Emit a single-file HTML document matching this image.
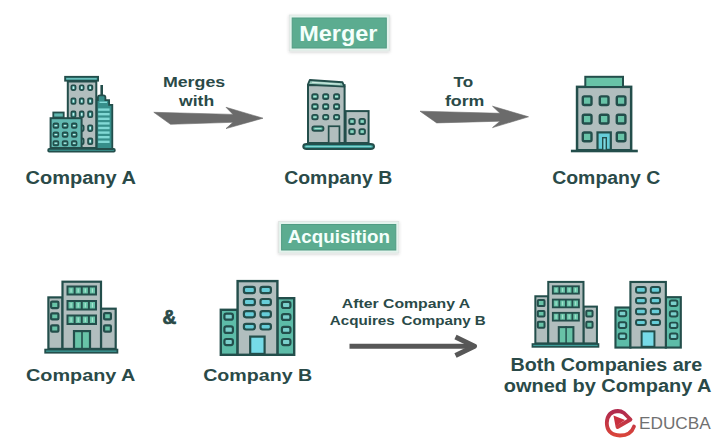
<!DOCTYPE html>
<html><head><meta charset="utf-8"><style>
html,body{margin:0;padding:0;background:#ffffff;}
svg{display:block;}
text{font-family:"Liberation Sans",sans-serif;}
</style></head><body>
<svg width="720" height="441" viewBox="0 0 720 441">
<defs><filter id="sh" x="-20%" y="-40%" width="140%" height="180%"><feDropShadow dx="0" dy="1" stdDeviation="1.5" flood-color="#000" flood-opacity="0.18"/></filter></defs>
<rect width="720" height="441" fill="#ffffff"/>
<rect x="289.2" y="15" width="100.10000000000002" height="36" fill="#e4f3ed" stroke="#dfe3e2" stroke-width="0.8" filter="url(#sh)"/>
<rect x="292.2" y="18" width="94.10000000000002" height="30" fill="#5cac90" stroke="#519c83" stroke-width="1"/>
<text x="299.20" y="40.60" font-size="22.30" font-weight="700" fill="#f4fffb" textLength="78.30" lengthAdjust="spacingAndGlyphs" >Merger</text>
<rect x="278.6" y="221.5" width="120.19999999999999" height="31.5" fill="#e4f3ed" stroke="#dfe3e2" stroke-width="0.8" filter="url(#sh)"/>
<rect x="281.6" y="224.5" width="114.19999999999999" height="25.5" fill="#5cac90" stroke="#519c83" stroke-width="1"/>
<text x="287.80" y="243.00" font-size="17.60" font-weight="700" fill="#f4fffb" textLength="102.10" lengthAdjust="spacingAndGlyphs" >Acquisition</text>
<rect x="48.20" y="148.90" width="66.60" height="2.70" rx="1" fill="#3e9e9a" stroke="#234e4b" stroke-width="1.8"/>
<rect x="67.80" y="81.50" width="28.50" height="66.50" rx="0" fill="#b1bebe" stroke="#234e4b" stroke-width="2.0"/>
<rect x="65.10" y="76.80" width="33.00" height="3.90" rx="0" fill="#3e9e9a" stroke="#234e4b" stroke-width="1.8"/>
<path d="M66.5,78.8 H96.5" stroke="#7fcfcb" stroke-width="1"/>
<rect x="71.35" y="85.35" width="4.20" height="4.70" rx="1.2" fill="#3c9c96" stroke="#234e4b" stroke-width="1.7"/>
<rect x="72.65" y="86.40" width="1.60" height="2.60" rx="0" fill="#c6f2ee"/>
<rect x="71.35" y="98.35" width="4.20" height="5.50" rx="1.2" fill="#3c9c96" stroke="#234e4b" stroke-width="1.7"/>
<rect x="72.65" y="99.80" width="1.60" height="2.60" rx="0" fill="#c6f2ee"/>
<rect x="71.35" y="111.45" width="4.20" height="5.80" rx="1.2" fill="#3c9c96" stroke="#234e4b" stroke-width="1.7"/>
<rect x="72.65" y="113.05" width="1.60" height="2.60" rx="0" fill="#c6f2ee"/>
<rect x="71.35" y="125.25" width="4.20" height="5.80" rx="1.2" fill="#3c9c96" stroke="#234e4b" stroke-width="1.7"/>
<rect x="72.65" y="126.85" width="1.60" height="2.60" rx="0" fill="#c6f2ee"/>
<rect x="71.35" y="138.35" width="4.20" height="5.80" rx="1.2" fill="#3c9c96" stroke="#234e4b" stroke-width="1.7"/>
<rect x="72.65" y="139.95" width="1.60" height="2.60" rx="0" fill="#c6f2ee"/>
<rect x="79.75" y="85.35" width="3.90" height="4.70" rx="1.2" fill="#3c9c96" stroke="#234e4b" stroke-width="1.7"/>
<rect x="80.90" y="86.40" width="1.60" height="2.60" rx="0" fill="#c6f2ee"/>
<rect x="79.75" y="98.35" width="3.90" height="5.50" rx="1.2" fill="#3c9c96" stroke="#234e4b" stroke-width="1.7"/>
<rect x="80.90" y="99.80" width="1.60" height="2.60" rx="0" fill="#c6f2ee"/>
<rect x="79.75" y="111.45" width="3.90" height="5.80" rx="1.2" fill="#3c9c96" stroke="#234e4b" stroke-width="1.7"/>
<rect x="80.90" y="113.05" width="1.60" height="2.60" rx="0" fill="#c6f2ee"/>
<rect x="79.75" y="125.25" width="3.90" height="5.80" rx="1.2" fill="#3c9c96" stroke="#234e4b" stroke-width="1.7"/>
<rect x="80.90" y="126.85" width="1.60" height="2.60" rx="0" fill="#c6f2ee"/>
<rect x="79.75" y="138.35" width="3.90" height="5.80" rx="1.2" fill="#3c9c96" stroke="#234e4b" stroke-width="1.7"/>
<rect x="80.90" y="139.95" width="1.60" height="2.60" rx="0" fill="#c6f2ee"/>
<rect x="88.05" y="85.35" width="4.30" height="4.70" rx="1.2" fill="#3c9c96" stroke="#234e4b" stroke-width="1.7"/>
<rect x="89.40" y="86.40" width="1.60" height="2.60" rx="0" fill="#c6f2ee"/>
<rect x="88.05" y="98.35" width="4.30" height="5.50" rx="1.2" fill="#3c9c96" stroke="#234e4b" stroke-width="1.7"/>
<rect x="89.40" y="99.80" width="1.60" height="2.60" rx="0" fill="#c6f2ee"/>
<rect x="88.05" y="111.45" width="4.30" height="5.80" rx="1.2" fill="#3c9c96" stroke="#234e4b" stroke-width="1.7"/>
<rect x="89.40" y="113.05" width="1.60" height="2.60" rx="0" fill="#c6f2ee"/>
<rect x="88.05" y="125.25" width="4.30" height="5.80" rx="1.2" fill="#3c9c96" stroke="#234e4b" stroke-width="1.7"/>
<rect x="89.40" y="126.85" width="1.60" height="2.60" rx="0" fill="#c6f2ee"/>
<rect x="88.05" y="138.35" width="4.30" height="5.80" rx="1.2" fill="#3c9c96" stroke="#234e4b" stroke-width="1.7"/>
<rect x="89.40" y="139.95" width="1.60" height="2.60" rx="0" fill="#c6f2ee"/>
<path d="M101.7,95.5 V85" stroke="#234e4b" stroke-width="2.6"/>
<path d="M96.7,149 V100.2 H97.9 V97.6 Q97.9,95.4 100.2,95.4 H103.3 Q105.4,95.4 105.4,97.6 V100.2 H109.1 V104.8 H112.3 V149 Z" fill="#378f8b" stroke="#234e4b" stroke-width="1.8"/>
<path d="M98.2,109.6 H109.6" stroke="#82d9d5" stroke-width="2.4"/>
<path d="M98.2,114.2 H109.6" stroke="#82d9d5" stroke-width="2.4"/>
<path d="M98.2,118.8 H109.6" stroke="#82d9d5" stroke-width="2.4"/>
<path d="M98.2,123.4 H109.6" stroke="#82d9d5" stroke-width="2.4"/>
<path d="M98.2,128 H109.6" stroke="#82d9d5" stroke-width="2.4"/>
<path d="M98.2,132.6 H109.6" stroke="#82d9d5" stroke-width="2.4"/>
<path d="M98.2,137.2 H109.6" stroke="#82d9d5" stroke-width="2.4"/>
<path d="M98.2,141.8 H109.6" stroke="#82d9d5" stroke-width="2.4"/>
<path d="M99.5,102.3 H107" stroke="#86dcd8" stroke-width="1.4"/>
<rect x="53.30" y="112.50" width="10.40" height="5.00" rx="0" fill="#62b9b1" stroke="#234e4b" stroke-width="1.8"/>
<rect x="50.60" y="118.20" width="31.00" height="29.80" rx="0" fill="#62b9b1" stroke="#234e4b" stroke-width="2.0"/>
<rect x="53.45" y="123.35" width="4.90" height="4.60" rx="1.2" fill="#2f8c85" stroke="#234e4b" stroke-width="1.7"/>
<rect x="54.50" y="125.05" width="2.80" height="1.20" rx="0" fill="#c5f0ea"/>
<rect x="53.45" y="132.35" width="4.90" height="4.50" rx="1.2" fill="#2f8c85" stroke="#234e4b" stroke-width="1.7"/>
<rect x="54.50" y="134.00" width="2.80" height="1.20" rx="0" fill="#c5f0ea"/>
<rect x="53.45" y="141.05" width="4.90" height="4.40" rx="1.2" fill="#2f8c85" stroke="#234e4b" stroke-width="1.7"/>
<rect x="54.50" y="142.65" width="2.80" height="1.20" rx="0" fill="#c5f0ea"/>
<rect x="62.65" y="123.35" width="4.90" height="4.60" rx="1.2" fill="#2f8c85" stroke="#234e4b" stroke-width="1.7"/>
<rect x="63.70" y="125.05" width="2.80" height="1.20" rx="0" fill="#c5f0ea"/>
<rect x="62.65" y="132.35" width="4.90" height="4.50" rx="1.2" fill="#2f8c85" stroke="#234e4b" stroke-width="1.7"/>
<rect x="63.70" y="134.00" width="2.80" height="1.20" rx="0" fill="#c5f0ea"/>
<rect x="62.65" y="141.05" width="4.90" height="4.40" rx="1.2" fill="#2f8c85" stroke="#234e4b" stroke-width="1.7"/>
<rect x="63.70" y="142.65" width="2.80" height="1.20" rx="0" fill="#c5f0ea"/>
<rect x="71.85" y="123.35" width="4.70" height="4.60" rx="1.2" fill="#2f8c85" stroke="#234e4b" stroke-width="1.7"/>
<rect x="72.80" y="125.05" width="2.80" height="1.20" rx="0" fill="#c5f0ea"/>
<rect x="71.85" y="132.35" width="4.70" height="4.50" rx="1.2" fill="#2f8c85" stroke="#234e4b" stroke-width="1.7"/>
<rect x="72.80" y="134.00" width="2.80" height="1.20" rx="0" fill="#c5f0ea"/>
<rect x="71.85" y="141.05" width="4.70" height="4.40" rx="1.2" fill="#2f8c85" stroke="#234e4b" stroke-width="1.7"/>
<rect x="72.80" y="142.65" width="2.80" height="1.20" rx="0" fill="#c5f0ea"/>
<rect x="308.00" y="85.20" width="36.60" height="57.80" rx="0" fill="#b1bebe" stroke="#234e4b" stroke-width="2.0"/>
<path d="M309.8,80 L342.5,82.3 L344.4,86.6 L307.9,84.6 Z" fill="#93c7b9" stroke="#234e4b" stroke-width="1.9" stroke-linejoin="round"/>
<path d="M312,82.3 L340,84.2" stroke="#d8efe9" stroke-width="0.9"/>
<rect x="312.20" y="94.20" width="5.50" height="4.80" rx="1.6" fill="#4fa894" stroke="#234e4b" stroke-width="1.8"/>
<rect x="313.35" y="95.90" width="3.20" height="1.40" rx="0" fill="#a9e0d4"/>
<rect x="312.20" y="104.20" width="5.50" height="4.80" rx="1.6" fill="#4fa894" stroke="#234e4b" stroke-width="1.8"/>
<rect x="313.35" y="105.90" width="3.20" height="1.40" rx="0" fill="#a9e0d4"/>
<rect x="312.20" y="114.90" width="5.50" height="4.50" rx="1.6" fill="#4fa894" stroke="#234e4b" stroke-width="1.8"/>
<rect x="313.35" y="116.45" width="3.20" height="1.40" rx="0" fill="#a9e0d4"/>
<rect x="323.10" y="94.20" width="5.20" height="4.80" rx="1.6" fill="#4fa894" stroke="#234e4b" stroke-width="1.8"/>
<rect x="324.10" y="95.90" width="3.20" height="1.40" rx="0" fill="#a9e0d4"/>
<rect x="323.10" y="104.20" width="5.20" height="4.80" rx="1.6" fill="#4fa894" stroke="#234e4b" stroke-width="1.8"/>
<rect x="324.10" y="105.90" width="3.20" height="1.40" rx="0" fill="#a9e0d4"/>
<rect x="323.10" y="114.90" width="5.20" height="4.50" rx="1.6" fill="#4fa894" stroke="#234e4b" stroke-width="1.8"/>
<rect x="324.10" y="116.45" width="3.20" height="1.40" rx="0" fill="#a9e0d4"/>
<rect x="334.00" y="94.20" width="5.20" height="4.80" rx="1.6" fill="#4fa894" stroke="#234e4b" stroke-width="1.8"/>
<rect x="335.00" y="95.90" width="3.20" height="1.40" rx="0" fill="#a9e0d4"/>
<rect x="334.00" y="104.20" width="5.20" height="4.80" rx="1.6" fill="#4fa894" stroke="#234e4b" stroke-width="1.8"/>
<rect x="335.00" y="105.90" width="3.20" height="1.40" rx="0" fill="#a9e0d4"/>
<rect x="334.00" y="114.90" width="5.20" height="4.50" rx="1.6" fill="#4fa894" stroke="#234e4b" stroke-width="1.8"/>
<rect x="335.00" y="116.45" width="3.20" height="1.40" rx="0" fill="#a9e0d4"/>
<rect x="312.30" y="126.30" width="11.20" height="4.50" rx="2" fill="#4fa894" stroke="#234e4b" stroke-width="1.8"/>
<rect x="314.50" y="128.00" width="7.00" height="1.10" rx="0" fill="#a9e0d4"/>
<rect x="328.65" y="126.25" width="10.80" height="16.90" rx="0" fill="#b1bebe" stroke="#234e4b" stroke-width="1.7"/>
<rect x="345.60" y="111.10" width="23.00" height="31.90" rx="0" fill="#b1bebe" stroke="#234e4b" stroke-width="2.0"/>
<rect x="349.20" y="118.90" width="5.60" height="5.10" rx="1.6" fill="#4fa894" stroke="#234e4b" stroke-width="1.8"/>
<rect x="350.60" y="120.25" width="2.80" height="2.40" rx="0" fill="#8fd5c2"/>
<rect x="349.20" y="129.20" width="5.60" height="4.90" rx="1.6" fill="#4fa894" stroke="#234e4b" stroke-width="1.8"/>
<rect x="350.60" y="130.45" width="2.80" height="2.40" rx="0" fill="#8fd5c2"/>
<rect x="359.40" y="118.90" width="5.60" height="5.10" rx="1.6" fill="#4fa894" stroke="#234e4b" stroke-width="1.8"/>
<rect x="360.80" y="120.25" width="2.80" height="2.40" rx="0" fill="#8fd5c2"/>
<rect x="359.40" y="129.20" width="5.60" height="4.90" rx="1.6" fill="#4fa894" stroke="#234e4b" stroke-width="1.8"/>
<rect x="360.80" y="130.45" width="2.80" height="2.40" rx="0" fill="#8fd5c2"/>
<rect x="303.25" y="143.95" width="70.80" height="5.00" rx="3.4" fill="#3e9e9a" stroke="#234e4b" stroke-width="1.9"/>
<path d="M305.5,146.5 H371.5" stroke="#7ed3cf" stroke-width="1"/>
<rect x="577.05" y="86.85" width="54.10" height="63.40" rx="0" fill="#b1bebe" stroke="#234e4b" stroke-width="2.5"/>
<rect x="585.30" y="76.80" width="37.70" height="10.20" rx="0" fill="#68c3a7" stroke="#234e4b" stroke-width="2.0"/>
<rect x="582.80" y="96.40" width="8.70" height="8.60" rx="1.5" fill="#68c3a7" stroke="#234e4b" stroke-width="2.4"/>
<rect x="582.80" y="114.80" width="8.70" height="8.70" rx="1.5" fill="#68c3a7" stroke="#234e4b" stroke-width="2.4"/>
<rect x="582.80" y="132.50" width="8.70" height="8.70" rx="1.5" fill="#68c3a7" stroke="#234e4b" stroke-width="2.4"/>
<rect x="599.80" y="96.40" width="8.70" height="8.60" rx="1.5" fill="#68c3a7" stroke="#234e4b" stroke-width="2.4"/>
<rect x="599.80" y="114.80" width="8.70" height="8.70" rx="1.5" fill="#68c3a7" stroke="#234e4b" stroke-width="2.4"/>
<rect x="616.80" y="96.40" width="8.60" height="8.60" rx="1.5" fill="#68c3a7" stroke="#234e4b" stroke-width="2.4"/>
<rect x="616.80" y="114.80" width="8.60" height="8.70" rx="1.5" fill="#68c3a7" stroke="#234e4b" stroke-width="2.4"/>
<rect x="616.80" y="132.50" width="8.60" height="8.70" rx="1.5" fill="#68c3a7" stroke="#234e4b" stroke-width="2.4"/>
<rect x="597.50" y="132.40" width="13.30" height="17.50" rx="0" fill="#66cdd8" stroke="#234e4b" stroke-width="2.2"/>
<rect x="602.70" y="137.70" width="3.60" height="12.60" rx="0" fill="#7fd9e2" stroke="#234e4b" stroke-width="1.4"/>
<rect x="570.90" y="149.70" width="66.90" height="2.60" rx="0" fill="#234e4b"/>
<path d="M153.8,112.3 L233,114.4 L226,107.3 L263,118.2 L226,128.6 L233,122.3 L170.5,124.3 Z" fill="#6b6b6b" stroke="#6b6b6b" stroke-width="0.6" stroke-linejoin="round"/>
<path d="M420,111.2 L500,113.3 L492.5,106.2 L528.5,116.8 L492.5,127.6 L500,121.2 L436.7,122.9 Z" fill="#6b6b6b" stroke="#6b6b6b" stroke-width="0.6" stroke-linejoin="round"/>
<path d="M349.5,346.2 H472" stroke="#575757" stroke-width="5"/>
<path d="M455.5,337 L474.5,346.2 L455.5,355.5" fill="none" stroke="#575757" stroke-width="5" stroke-linejoin="round"/>
<text x="162.90" y="86.80" font-size="15.40" font-weight="700" fill="#2a4a48" textLength="62.30" lengthAdjust="spacingAndGlyphs" >Merges</text>
<text x="179.00" y="105.60" font-size="15.40" font-weight="700" fill="#2a4a48" textLength="35.20" lengthAdjust="spacingAndGlyphs" >with</text>
<text x="453.60" y="86.80" font-size="15.40" font-weight="700" fill="#2a4a48" textLength="19.60" lengthAdjust="spacingAndGlyphs" >To</text>
<text x="444.90" y="106.20" font-size="15.40" font-weight="700" fill="#2a4a48" textLength="39.50" lengthAdjust="spacingAndGlyphs" >form</text>
<text x="25.50" y="183.50" font-size="17.60" font-weight="700" fill="#2a4a48" textLength="110.50" lengthAdjust="spacingAndGlyphs" >Company A</text>
<text x="284.20" y="183.50" font-size="17.60" font-weight="700" fill="#2a4a48" textLength="108.00" lengthAdjust="spacingAndGlyphs" >Company B</text>
<text x="552.20" y="183.50" font-size="17.60" font-weight="700" fill="#2a4a48" textLength="108.00" lengthAdjust="spacingAndGlyphs" >Company C</text>
<text x="26.00" y="381.30" font-size="17.00" font-weight="700" fill="#2a4a48" textLength="109.40" lengthAdjust="spacingAndGlyphs" >Company A</text>
<text x="203.20" y="381.30" font-size="17.00" font-weight="700" fill="#2a4a48" textLength="109.00" lengthAdjust="spacingAndGlyphs" >Company B</text>
<text x="162.60" y="323.80" font-size="19.50" font-weight="700" fill="#2a4a48" textLength="13.80" lengthAdjust="spacingAndGlyphs" stroke="#2a4a48" stroke-width="0.7">&amp;</text>
<text x="341.80" y="307.60" font-size="13.20" font-weight="700" fill="#2a4a48" textLength="128.40" lengthAdjust="spacingAndGlyphs" >After Company A</text>
<text x="329.80" y="324.90" font-size="13.20" font-weight="700" fill="#2a4a48" textLength="156.00" lengthAdjust="spacingAndGlyphs" >Acquires &#8198;Company B</text>
<text x="510.40" y="371.00" font-size="17.60" font-weight="700" fill="#2a4a48" textLength="191.90" lengthAdjust="spacingAndGlyphs" >Both Companies are</text>
<text x="503.80" y="391.60" font-size="17.60" font-weight="700" fill="#2a4a48" textLength="207.70" lengthAdjust="spacingAndGlyphs" >owned by Company A</text>
<text x="639.00" y="428.60" font-size="16.80" font-weight="400" fill="#707070" textLength="71.80" lengthAdjust="spacingAndGlyphs" >EDUCBA</text>
<rect x="48.40" y="297.40" width="14.10" height="51.50" rx="0" fill="#b1bebe" stroke="#234e4b" stroke-width="2.2"/>
<rect x="101.00" y="308.70" width="14.70" height="40.20" rx="0" fill="#b1bebe" stroke="#234e4b" stroke-width="2.2"/>
<rect x="62.50" y="281.70" width="38.50" height="67.20" rx="0" fill="#b1bebe" stroke="#234e4b" stroke-width="2.2"/>
<rect x="66.50" y="285.50" width="30.50" height="10.00" rx="0" fill="#234e4b" stroke="#234e4b" stroke-width="0"/>
<rect x="68.50" y="287.50" width="5.12" height="6.00" rx="0" fill="#68c3a7"/>
<rect x="70.46" y="288.50" width="1.20" height="4.00" rx="0" fill="#a5e3d0"/>
<rect x="75.62" y="287.50" width="5.12" height="6.00" rx="0" fill="#68c3a7"/>
<rect x="77.59" y="288.50" width="1.20" height="4.00" rx="0" fill="#a5e3d0"/>
<rect x="82.75" y="287.50" width="5.12" height="6.00" rx="0" fill="#68c3a7"/>
<rect x="84.71" y="288.50" width="1.20" height="4.00" rx="0" fill="#a5e3d0"/>
<rect x="89.88" y="287.50" width="5.12" height="6.00" rx="0" fill="#68c3a7"/>
<rect x="91.84" y="288.50" width="1.20" height="4.00" rx="0" fill="#a5e3d0"/>
<rect x="66.50" y="300.00" width="30.50" height="10.50" rx="0" fill="#234e4b" stroke="#234e4b" stroke-width="0"/>
<rect x="68.50" y="302.00" width="5.12" height="6.50" rx="0" fill="#68c3a7"/>
<rect x="70.46" y="303.00" width="1.20" height="4.50" rx="0" fill="#a5e3d0"/>
<rect x="75.62" y="302.00" width="5.12" height="6.50" rx="0" fill="#68c3a7"/>
<rect x="77.59" y="303.00" width="1.20" height="4.50" rx="0" fill="#a5e3d0"/>
<rect x="82.75" y="302.00" width="5.12" height="6.50" rx="0" fill="#68c3a7"/>
<rect x="84.71" y="303.00" width="1.20" height="4.50" rx="0" fill="#a5e3d0"/>
<rect x="89.88" y="302.00" width="5.12" height="6.50" rx="0" fill="#68c3a7"/>
<rect x="91.84" y="303.00" width="1.20" height="4.50" rx="0" fill="#a5e3d0"/>
<rect x="66.50" y="314.50" width="30.50" height="10.50" rx="0" fill="#234e4b" stroke="#234e4b" stroke-width="0"/>
<rect x="68.50" y="316.50" width="5.12" height="6.50" rx="0" fill="#68c3a7"/>
<rect x="70.46" y="317.50" width="1.20" height="4.50" rx="0" fill="#a5e3d0"/>
<rect x="75.62" y="316.50" width="5.12" height="6.50" rx="0" fill="#68c3a7"/>
<rect x="77.59" y="317.50" width="1.20" height="4.50" rx="0" fill="#a5e3d0"/>
<rect x="82.75" y="316.50" width="5.12" height="6.50" rx="0" fill="#68c3a7"/>
<rect x="84.71" y="317.50" width="1.20" height="4.50" rx="0" fill="#a5e3d0"/>
<rect x="89.88" y="316.50" width="5.12" height="6.50" rx="0" fill="#68c3a7"/>
<rect x="91.84" y="317.50" width="1.20" height="4.50" rx="0" fill="#a5e3d0"/>
<rect x="74.00" y="331.10" width="16.00" height="17.80" rx="0" fill="#68c3a7" stroke="#234e4b" stroke-width="2.2"/>
<rect x="81.20" y="330.00" width="1.60" height="19.00" rx="0" fill="#234e4b"/>
<rect x="51.10" y="301.60" width="7.30" height="6.50" rx="1" fill="#68c3a7" stroke="#234e4b" stroke-width="2.2"/>
<rect x="51.10" y="313.40" width="7.30" height="6.00" rx="1" fill="#68c3a7" stroke="#234e4b" stroke-width="2.2"/>
<rect x="51.10" y="325.30" width="7.30" height="6.40" rx="1" fill="#68c3a7" stroke="#234e4b" stroke-width="2.2"/>
<rect x="104.10" y="313.10" width="6.80" height="6.30" rx="1" fill="#68c3a7" stroke="#234e4b" stroke-width="2.2"/>
<rect x="104.10" y="325.30" width="6.80" height="6.40" rx="1" fill="#68c3a7" stroke="#234e4b" stroke-width="2.2"/>
<rect x="45.20" y="349.60" width="72.20" height="3.10" rx="0" fill="#3e9e9a" stroke="#234e4b" stroke-width="1.8"/>
<rect x="220.80" y="309.80" width="16.80" height="45.00" rx="0" fill="#5dbca8" stroke="#234e4b" stroke-width="2.4"/>
<rect x="277.30" y="298.20" width="16.90" height="56.60" rx="0" fill="#5dbca8" stroke="#234e4b" stroke-width="2.4"/>
<rect x="237.60" y="281.10" width="39.80" height="73.70" rx="0" fill="#b1bebe" stroke="#234e4b" stroke-width="2.4"/>
<rect x="243.90" y="286.80" width="11.00" height="6.30" rx="2.2" fill="#66cdd8" stroke="#234e4b" stroke-width="2.2"/>
<rect x="243.90" y="299.00" width="11.00" height="6.10" rx="2.2" fill="#66cdd8" stroke="#234e4b" stroke-width="2.2"/>
<rect x="243.90" y="311.20" width="11.00" height="6.10" rx="2.2" fill="#66cdd8" stroke="#234e4b" stroke-width="2.2"/>
<rect x="243.90" y="323.90" width="11.00" height="5.60" rx="2.2" fill="#66cdd8" stroke="#234e4b" stroke-width="2.2"/>
<rect x="260.50" y="286.80" width="10.40" height="6.30" rx="2.2" fill="#66cdd8" stroke="#234e4b" stroke-width="2.2"/>
<rect x="260.50" y="299.00" width="10.40" height="6.10" rx="2.2" fill="#66cdd8" stroke="#234e4b" stroke-width="2.2"/>
<rect x="260.50" y="311.20" width="10.40" height="6.10" rx="2.2" fill="#66cdd8" stroke="#234e4b" stroke-width="2.2"/>
<rect x="260.50" y="323.90" width="10.40" height="5.60" rx="2.2" fill="#66cdd8" stroke="#234e4b" stroke-width="2.2"/>
<rect x="250.20" y="336.60" width="14.40" height="17.30" rx="0" fill="#76dbe8" stroke="#234e4b" stroke-width="2.2"/>
<rect x="224.40" y="313.60" width="8.50" height="6.10" rx="2" fill="#7acfcb" stroke="#234e4b" stroke-width="2.2"/>
<rect x="224.40" y="326.30" width="8.50" height="6.60" rx="2" fill="#7acfcb" stroke="#234e4b" stroke-width="2.2"/>
<rect x="224.40" y="339.00" width="8.50" height="6.10" rx="2" fill="#7acfcb" stroke="#234e4b" stroke-width="2.2"/>
<rect x="281.90" y="301.90" width="8.50" height="6.10" rx="2" fill="#7acfcb" stroke="#234e4b" stroke-width="2.2"/>
<rect x="281.90" y="314.10" width="8.50" height="5.80" rx="2" fill="#7acfcb" stroke="#234e4b" stroke-width="2.2"/>
<rect x="281.90" y="326.80" width="8.50" height="6.10" rx="2" fill="#7acfcb" stroke="#234e4b" stroke-width="2.2"/>
<rect x="281.90" y="339.00" width="8.50" height="6.10" rx="2" fill="#7acfcb" stroke="#234e4b" stroke-width="2.2"/>
<g transform="translate(531.6,280.9) scale(0.915) translate(-44.3,-280.6)">
<rect x="48.40" y="297.40" width="14.10" height="51.50" rx="0" fill="#b1bebe" stroke="#234e4b" stroke-width="2.2"/>
<rect x="101.00" y="308.70" width="14.70" height="40.20" rx="0" fill="#b1bebe" stroke="#234e4b" stroke-width="2.2"/>
<rect x="62.50" y="281.70" width="38.50" height="67.20" rx="0" fill="#b1bebe" stroke="#234e4b" stroke-width="2.2"/>
<rect x="66.50" y="285.50" width="30.50" height="10.00" rx="0" fill="#234e4b" stroke="#234e4b" stroke-width="0"/>
<rect x="68.50" y="287.50" width="5.12" height="6.00" rx="0" fill="#68c3a7"/>
<rect x="70.46" y="288.50" width="1.20" height="4.00" rx="0" fill="#a5e3d0"/>
<rect x="75.62" y="287.50" width="5.12" height="6.00" rx="0" fill="#68c3a7"/>
<rect x="77.59" y="288.50" width="1.20" height="4.00" rx="0" fill="#a5e3d0"/>
<rect x="82.75" y="287.50" width="5.12" height="6.00" rx="0" fill="#68c3a7"/>
<rect x="84.71" y="288.50" width="1.20" height="4.00" rx="0" fill="#a5e3d0"/>
<rect x="89.88" y="287.50" width="5.12" height="6.00" rx="0" fill="#68c3a7"/>
<rect x="91.84" y="288.50" width="1.20" height="4.00" rx="0" fill="#a5e3d0"/>
<rect x="66.50" y="300.00" width="30.50" height="10.50" rx="0" fill="#234e4b" stroke="#234e4b" stroke-width="0"/>
<rect x="68.50" y="302.00" width="5.12" height="6.50" rx="0" fill="#68c3a7"/>
<rect x="70.46" y="303.00" width="1.20" height="4.50" rx="0" fill="#a5e3d0"/>
<rect x="75.62" y="302.00" width="5.12" height="6.50" rx="0" fill="#68c3a7"/>
<rect x="77.59" y="303.00" width="1.20" height="4.50" rx="0" fill="#a5e3d0"/>
<rect x="82.75" y="302.00" width="5.12" height="6.50" rx="0" fill="#68c3a7"/>
<rect x="84.71" y="303.00" width="1.20" height="4.50" rx="0" fill="#a5e3d0"/>
<rect x="89.88" y="302.00" width="5.12" height="6.50" rx="0" fill="#68c3a7"/>
<rect x="91.84" y="303.00" width="1.20" height="4.50" rx="0" fill="#a5e3d0"/>
<rect x="66.50" y="314.50" width="30.50" height="10.50" rx="0" fill="#234e4b" stroke="#234e4b" stroke-width="0"/>
<rect x="68.50" y="316.50" width="5.12" height="6.50" rx="0" fill="#68c3a7"/>
<rect x="70.46" y="317.50" width="1.20" height="4.50" rx="0" fill="#a5e3d0"/>
<rect x="75.62" y="316.50" width="5.12" height="6.50" rx="0" fill="#68c3a7"/>
<rect x="77.59" y="317.50" width="1.20" height="4.50" rx="0" fill="#a5e3d0"/>
<rect x="82.75" y="316.50" width="5.12" height="6.50" rx="0" fill="#68c3a7"/>
<rect x="84.71" y="317.50" width="1.20" height="4.50" rx="0" fill="#a5e3d0"/>
<rect x="89.88" y="316.50" width="5.12" height="6.50" rx="0" fill="#68c3a7"/>
<rect x="91.84" y="317.50" width="1.20" height="4.50" rx="0" fill="#a5e3d0"/>
<rect x="74.00" y="331.10" width="16.00" height="17.80" rx="0" fill="#68c3a7" stroke="#234e4b" stroke-width="2.2"/>
<rect x="81.20" y="330.00" width="1.60" height="19.00" rx="0" fill="#234e4b"/>
<rect x="51.10" y="301.60" width="7.30" height="6.50" rx="1" fill="#68c3a7" stroke="#234e4b" stroke-width="2.2"/>
<rect x="51.10" y="313.40" width="7.30" height="6.00" rx="1" fill="#68c3a7" stroke="#234e4b" stroke-width="2.2"/>
<rect x="51.10" y="325.30" width="7.30" height="6.40" rx="1" fill="#68c3a7" stroke="#234e4b" stroke-width="2.2"/>
<rect x="104.10" y="313.10" width="6.80" height="6.30" rx="1" fill="#68c3a7" stroke="#234e4b" stroke-width="2.2"/>
<rect x="104.10" y="325.30" width="6.80" height="6.40" rx="1" fill="#68c3a7" stroke="#234e4b" stroke-width="2.2"/>
<rect x="45.20" y="349.60" width="72.20" height="3.10" rx="0" fill="#3e9e9a" stroke="#234e4b" stroke-width="1.8"/>
</g>
<g transform="translate(614.4,280.9) scale(0.89) translate(-219.6,-279.9)">
<rect x="220.80" y="309.80" width="16.80" height="45.00" rx="0" fill="#5dbca8" stroke="#234e4b" stroke-width="2.4"/>
<rect x="277.30" y="298.20" width="16.90" height="56.60" rx="0" fill="#5dbca8" stroke="#234e4b" stroke-width="2.4"/>
<rect x="237.60" y="281.10" width="39.80" height="73.70" rx="0" fill="#b1bebe" stroke="#234e4b" stroke-width="2.4"/>
<rect x="243.90" y="286.80" width="11.00" height="6.30" rx="2.2" fill="#66cdd8" stroke="#234e4b" stroke-width="2.2"/>
<rect x="243.90" y="299.00" width="11.00" height="6.10" rx="2.2" fill="#66cdd8" stroke="#234e4b" stroke-width="2.2"/>
<rect x="243.90" y="311.20" width="11.00" height="6.10" rx="2.2" fill="#66cdd8" stroke="#234e4b" stroke-width="2.2"/>
<rect x="243.90" y="323.90" width="11.00" height="5.60" rx="2.2" fill="#66cdd8" stroke="#234e4b" stroke-width="2.2"/>
<rect x="260.50" y="286.80" width="10.40" height="6.30" rx="2.2" fill="#66cdd8" stroke="#234e4b" stroke-width="2.2"/>
<rect x="260.50" y="299.00" width="10.40" height="6.10" rx="2.2" fill="#66cdd8" stroke="#234e4b" stroke-width="2.2"/>
<rect x="260.50" y="311.20" width="10.40" height="6.10" rx="2.2" fill="#66cdd8" stroke="#234e4b" stroke-width="2.2"/>
<rect x="260.50" y="323.90" width="10.40" height="5.60" rx="2.2" fill="#66cdd8" stroke="#234e4b" stroke-width="2.2"/>
<rect x="250.20" y="336.60" width="14.40" height="17.30" rx="0" fill="#76dbe8" stroke="#234e4b" stroke-width="2.2"/>
<rect x="224.40" y="313.60" width="8.50" height="6.10" rx="2" fill="#7acfcb" stroke="#234e4b" stroke-width="2.2"/>
<rect x="224.40" y="326.30" width="8.50" height="6.60" rx="2" fill="#7acfcb" stroke="#234e4b" stroke-width="2.2"/>
<rect x="224.40" y="339.00" width="8.50" height="6.10" rx="2" fill="#7acfcb" stroke="#234e4b" stroke-width="2.2"/>
<rect x="281.90" y="301.90" width="8.50" height="6.10" rx="2" fill="#7acfcb" stroke="#234e4b" stroke-width="2.2"/>
<rect x="281.90" y="314.10" width="8.50" height="5.80" rx="2" fill="#7acfcb" stroke="#234e4b" stroke-width="2.2"/>
<rect x="281.90" y="326.80" width="8.50" height="6.10" rx="2" fill="#7acfcb" stroke="#234e4b" stroke-width="2.2"/>
<rect x="281.90" y="339.00" width="8.50" height="6.10" rx="2" fill="#7acfcb" stroke="#234e4b" stroke-width="2.2"/>
</g>
<defs><linearGradient id="lg" x1="0" y1="0" x2="0" y2="1"><stop offset="0" stop-color="#b02a4e"/><stop offset="1" stop-color="#d9443a"/></linearGradient></defs>
<path d="M634,426.5 Q631,435.5 620,435.5 Q607,435 606.8,423 Q607.2,411.5 618,411 Q621,411 624,413 L630.5,419.5 L617.5,427" fill="none" stroke="url(#lg)" stroke-width="3.8" stroke-linejoin="round" stroke-linecap="round"/>
<path d="M613.5,415.5 L625,420 L615.5,426.5 Z" fill="#c8303f"/>
</svg></body></html>
